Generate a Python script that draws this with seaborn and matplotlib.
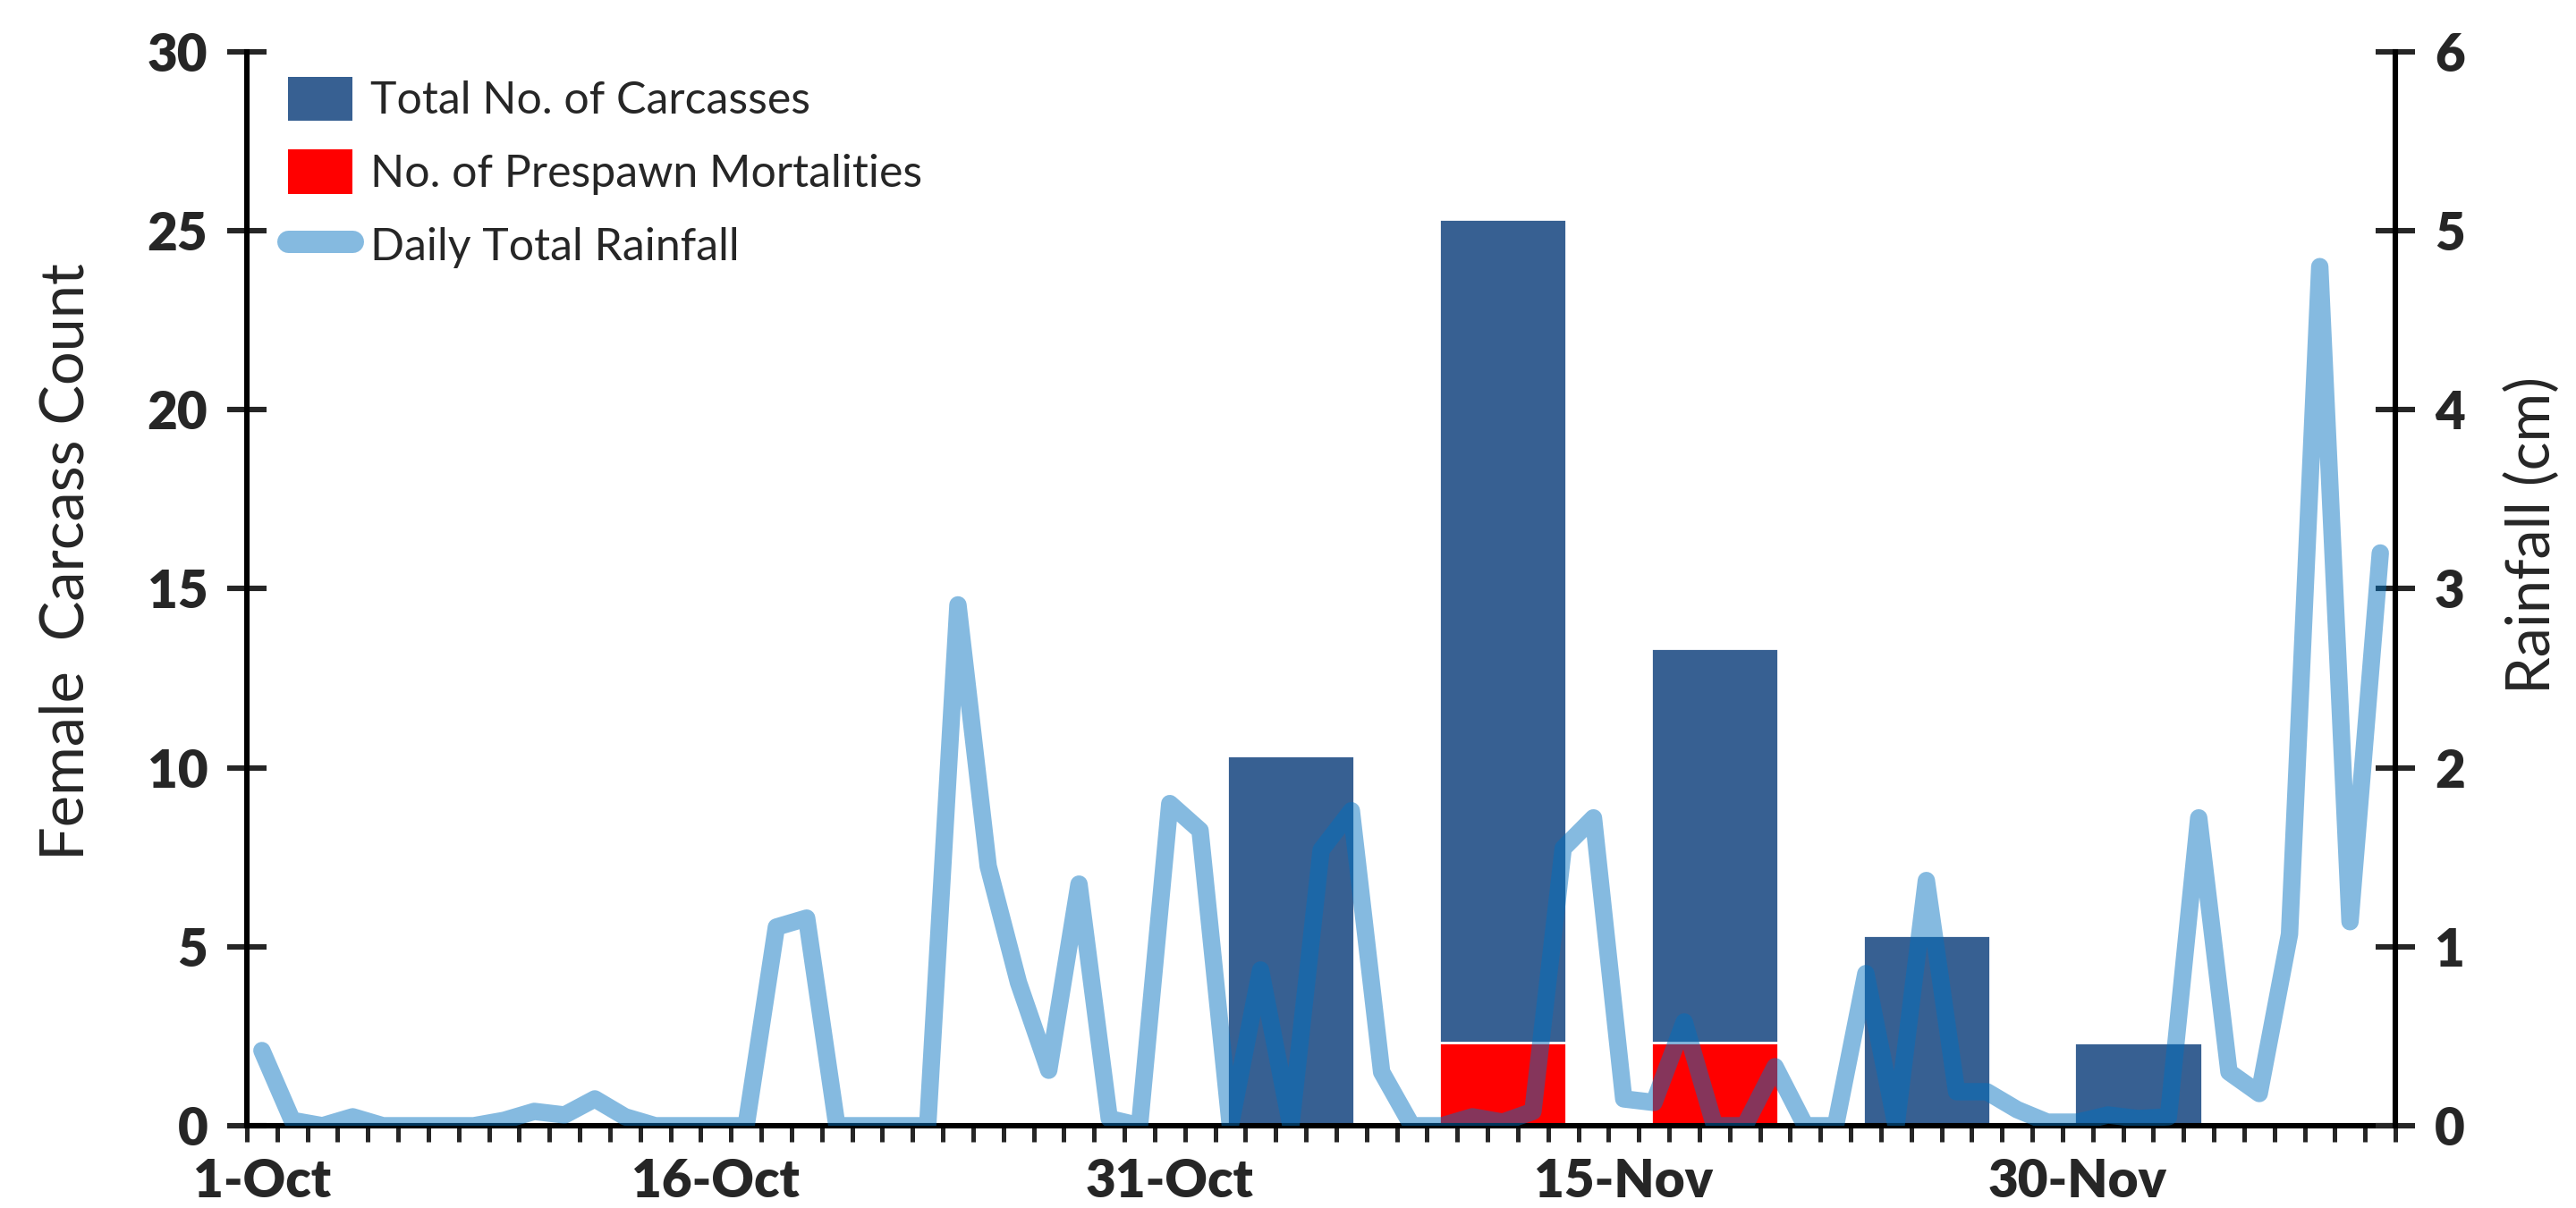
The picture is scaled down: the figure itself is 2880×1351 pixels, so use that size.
import numpy as np
import pandas as pd
import matplotlib
matplotlib.use('Agg')
import matplotlib.pyplot as plt
from matplotlib.patches import Patch
from matplotlib.lines import Line2D
import seaborn as sns

# day index 0 = 1-Oct
tick_days = [0, 15, 30, 45, 60]
tick_labels = ['1-Oct', '16-Oct', '31-Oct', '15-Nov', '30-Nov']

# weekly carcass survey
survey_day = [34, 41, 48, 55, 62]
total_carcasses = [10.33, 25.33, 13.33, 5.33, 2.33]
prespawn_mort = [0, 2.33, 2.33, 0, 0]

# daily rainfall (cm), 1-Oct .. 10-Dec
rainfall = [0.42, 0.03, 0.0, 0.05, 0.0, 0.0, 0.0, 0.0, 0.03, 0.08,
            0.06, 0.15, 0.05, 0.0, 0.0, 0.0, 0.0, 1.11, 1.16, 0.0,
            0.0, 0.0, 0.0, 2.91, 1.45, 0.8, 0.31, 1.35, 0.04, 0.0,
            1.8, 1.65, 0.0, 0.87, 0.0, 1.54, 1.76, 0.3, 0.0, 0.0,
            0.05, 0.02, 0.08, 1.55, 1.72, 0.15, 0.13, 0.58, 0.0, 0.0,
            0.33, 0.0, 0.0, 0.85, 0.0, 1.37, 0.19, 0.19, 0.09, 0.02,
            0.02, 0.06, 0.04, 0.05, 1.72, 0.3, 0.18, 1.07, 4.8, 1.14, 3.2]
rain_day = list(range(len(rainfall)))

bars = pd.DataFrame({'day': survey_day, 'total': total_carcasses, 'prespawn': prespawn_mort})
rain = pd.DataFrame({'day': rain_day, 'rain': rainfall})

sns.set_style('ticks')
plt.rcParams['font.family'] = ['Lato', 'DejaVu Sans']

bar_blue = '#376092'
line_blue = '#0070C0'
line_alpha = 0.48

fig = plt.figure(figsize=(14.4, 6.755), dpi=200)
ax = fig.add_axes([0.0958, 0.0681, 0.8341, 0.8890])

sns.barplot(data=bars, x='day', y='total', native_scale=True, width=0.6,
            color=bar_blue, saturation=1, errorbar=None, ax=ax)
sns.barplot(data=bars, x='day', y='prespawn', native_scale=True, width=0.6,
            color='#FF0000', saturation=1, errorbar=None, ax=ax)

ax2 = ax.twinx()
sns.lineplot(data=rain, x='day', y='rain', ax=ax2, color=line_blue, alpha=line_alpha,
             linewidth=7, solid_capstyle='round', solid_joinstyle='round')

ax.set_xlim(-0.5, 70.5)
ax.set_ylim(0, 30)
ax2.set_ylim(0, 6)
ax.set_yticks(range(0, 31, 5))
ax2.set_yticks(range(0, 7, 1))

ax.set_xticks(tick_days)
ax.set_xticklabels(tick_labels)
ax.set_xticks(np.arange(-0.5, 71, 1), minor=True)
ax.tick_params(axis='x', which='major', length=0, pad=13, labelsize=21)
ax.tick_params(axis='x', which='minor', length=6.5, width=1.8, direction='out')
ax.tick_params(axis='y', length=15.5, width=2.2, direction='inout', pad=8, labelsize=21)
ax2.tick_params(axis='y', length=15.5, width=2.2, direction='inout', pad=8, labelsize=21)
for lab in ax.get_xticklabels() + ax.get_yticklabels() + ax2.get_yticklabels():
    lab.set_fontweight('heavy')

ax.set_xlabel('')
ax.set_ylabel('Female  Carcass Count', fontsize=24, va='center')
ax.yaxis.set_label_coords(-0.0837, 0.525)
ax2.set_ylabel('Rainfall (cm)', fontsize=24, rotation=90, va='center')
ax2.yaxis.set_label_coords(1.064, 0.55)

for a in (ax, ax2):
    a.spines['top'].set_visible(False)
    for s in a.spines.values():
        s.set_linewidth(2.2)
        s.set_color('black')
ax.spines['right'].set_visible(False)
ax2.spines['left'].set_visible(False)
ax2.spines['bottom'].set_visible(False)
ax.patch.set_visible(False)

handles = [Patch(facecolor=bar_blue, edgecolor='none'),
           Patch(facecolor='#FF0000', edgecolor='none'),
           Line2D([], [], color=line_blue, alpha=line_alpha, linewidth=9,
                  solid_capstyle='round')]
labels = ['Total No. of Carcasses', 'No. of Prespawn Mortalities', 'Daily Total Rainfall']
ax2.legend(handles, labels, loc='upper left', bbox_to_anchor=(0.019, 0.977),
           frameon=False, fontsize=18, handlelength=1.45, handleheight=1.15,
           handletextpad=0.4, labelspacing=0.62, borderpad=0, borderaxespad=0)

fig.savefig('out.png', dpi=200)
